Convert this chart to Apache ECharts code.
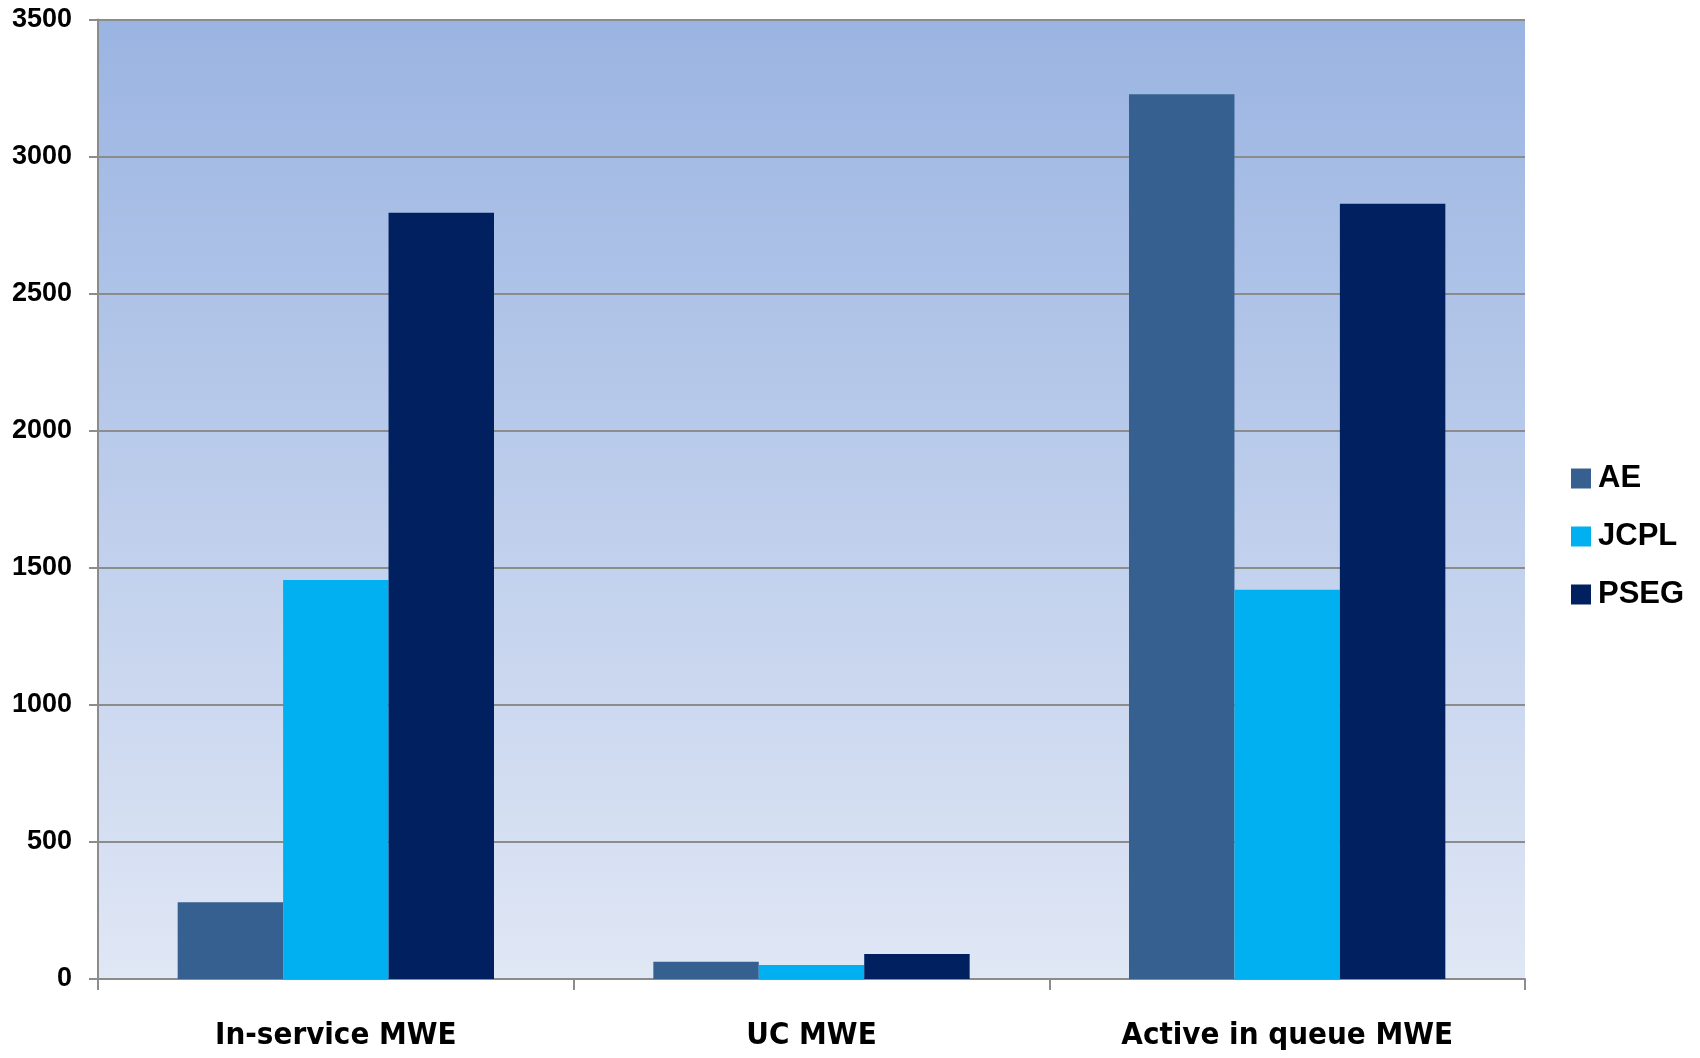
<!DOCTYPE html>
<html><head><meta charset="utf-8">
<script src="https://cdn.jsdelivr.net/npm/echarts@6/dist/echarts.min.js"></script>
<style>html,body{margin:0;padding:0;background:#fff}#c{width:1700px;height:1058px}</style>
</head><body><div id="c"></div>
<script>
const categories = ['In-service MWE', 'UC MWE', 'Active in queue MWE'];
const seriesNames = ['AE', 'JCPL', 'PSEG'];
const aeValues = [280, 63, 3227];
const jcplValues = [1455, 51, 1420];
const psegValues = [2795, 91, 2828];
const yTicks = [0, 500, 1000, 1500, 2000, 2500, 3000, 3500];
const colors = ['#36608F', '#00B0F0', '#002060'];

const chart = echarts.init(document.getElementById('c'));
const valuesList = [aeValues, jcplValues, psegValues];
chart.setOption({
  animation: false,
  backgroundColor: '#ffffff',
  grid: {
    left: 98, right: 175, top: 19.5, bottom: 79,
    show: true, borderWidth: 0,
    backgroundColor: new echarts.graphic.LinearGradient(0, 0, 0, 1, [
      {offset: 0, color: '#9AB4E2'},
      {offset: 1, color: '#E0E7F5'}
    ])
  },
  legend: {
    orient: 'vertical', left: 1566, top: 458,
    itemWidth: 20, itemHeight: 20, itemGap: 27,
    icon: 'rect',
    data: seriesNames,
    textStyle: {fontFamily: 'Liberation Sans', fontWeight: 'bold', fontSize: 31, color: '#000', padding: [0,0,0,2]}
  },
  xAxis: {
    type: 'category', data: categories,
    axisLine: {lineStyle: {color: '#8C8C8C', width: 2}},
    axisTick: {show: true, length: 11, lineStyle: {color: '#8C8C8C', width: 2}},
    axisLabel: {fontFamily: 'DejaVu Sans Condensed', fontWeight: 'bold', fontSize: 31, color: '#000', margin: 41}
  },
  yAxis: {
    type: 'value', min: yTicks[0], max: yTicks[yTicks.length - 1], interval: 500,
    axisLine: {show: true, lineStyle: {color: '#8C8C8C', width: 2}},
    axisTick: {show: true, length: 9, lineStyle: {color: '#8C8C8C', width: 2}},
    splitLine: {show: true, lineStyle: {color: '#8C8C8C', width: 2}},
    axisLabel: {fontFamily: 'Liberation Sans', fontWeight: 'bold', fontSize: 27, color: '#000', margin: 26,
      formatter: v => String(v)}
  },
  series: seriesNames.map((n, i) => ({
    name: n, type: 'bar', data: valuesList[i],
    barGap: '0%', barCategoryGap: '33.5%',
    itemStyle: {color: colors[i]}
  }))
});
</script></body></html>
